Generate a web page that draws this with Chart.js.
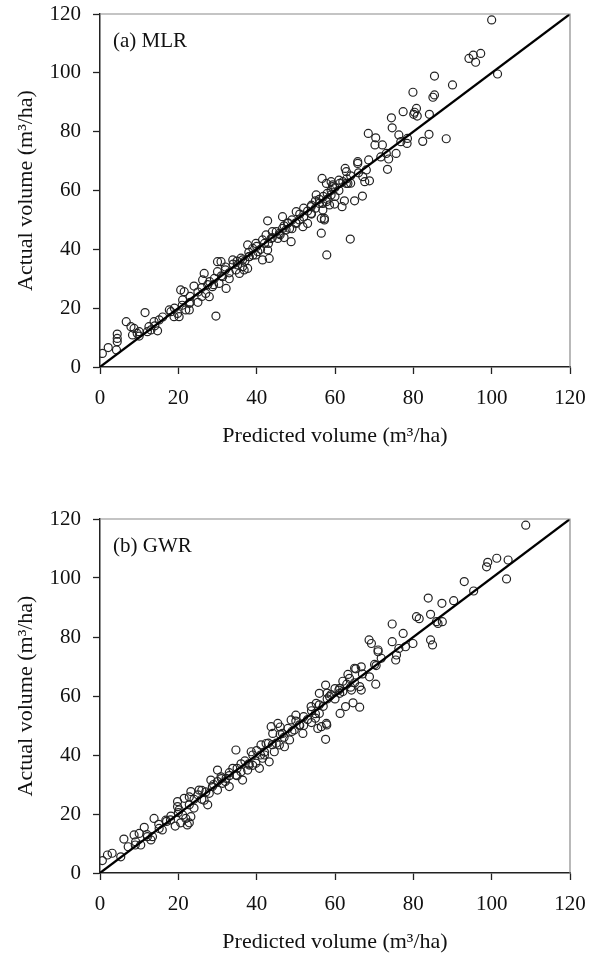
<!DOCTYPE html>
<html>
<head>
<meta charset="utf-8">
<script src="https://cdn.jsdelivr.net/npm/chart.js@4/dist/chart.umd.min.js"></script>
<style>
  body { margin: 0; background: #fff; }
  .panel { position: absolute; left: 0; width: 589px; height: 481px; }
</style>
</head>
<body>
<div class="panel" style="top:0"><canvas id="mlr" width="589" height="481"></canvas></div>
<div class="panel" style="top:481px"><canvas id="gwr" width="589" height="481"></canvas></div>
<script>
// axis / labels
const axisMin = 0;
const axisMax = 120;
const tickStep = 20;
const xTitle = "Predicted volume (m³/ha)";
const yTitle = "Actual volume (m³/ha)";
const panelLabels = ["(a) MLR", "(b) GWR"];
const oneToOne = [0, 120];

// (a) MLR: predicted vs actual
const mlrPredicted = [
  100, 101.5, 94.2, 95.3, 97.2, 95.9, 85.4, 90, 79.9, 85.4, 85, 77.4, 80.3, 80.8, 81, 80.1, 84.1, 74.4, 74.6,
  68.5, 70.4, 70.2, 72.1, 76.3, 78.5, 76.8, 78.4, 84, 82.4, 88.4, 75.6, 73.7, 73.1, 71.7, 73.4, 68.6, 65.8,
  65.8, 62.6, 62.9, 68, 56.7, 67.1, 68.8, 67.6, 59, 61.2, 63.3, 59.4, 57.8, 59.4, 62.9, 65, 67, 62.4, 61.8,
  59.9, 58.6, 56.9, 57.3, 56.5, 57.9, 63.9,
  0.6, 2.1, 4.2, 4.4, 4.4, 4.4, 6.7, 7.9, 8.7, 8.3, 9.5, 10, 11.5, 12.1, 13, 14.7, 13.8, 15.1, 12.5, 17.7,
  18.9, 19.8, 18.1, 20.6, 21.5, 21.1, 21.9, 22.8, 20.2, 22.8, 24, 29.6, 26.6, 27, 27.9, 26.2, 28.7, 30, 30.9,
  30, 31.3, 30.4, 32.2, 29.2, 33.9, 35.1, 36.4, 35.6, 36.8, 37.7, 34.7, 36.4, 37.7, 39, 39.8, 40.3, 38.1,
  41.5, 42.8, 43.2, 39.8, 42.8, 42.4, 41.5, 43.7, 45.4, 45.8, 46.6, 47.5, 46.6, 47.9, 48.8, 48.4, 50.1, 50.9,
  51.8, 53, 50.1, 53.9, 55.2, 56, 53.9, 56.5, 56.9, 57.8, 57.3,
  23, 25, 26, 27.5, 28, 29, 31, 32, 33, 34, 35, 36, 37, 38, 40, 41, 42, 44, 45, 46, 47, 48, 49, 50, 51, 52,
  53, 54, 55, 56, 57, 58, 59, 60, 61, 62, 63, 64, 60, 58, 55, 52, 49, 44, 39, 33, 25, 21, 16, 14, 10, 19,
  23, 26, 32, 38, 43, 47, 54, 59, 61, 64, 66
];
const mlrActual = [
  118, 99.6, 104.9, 106, 106.6, 103.6, 98.9, 95.9, 93.4, 92.5, 91.7, 86.8, 86.6, 87.9, 85.3, 85.9, 85.9, 84.7, 81.3,
  79.4, 77.9, 75.5, 75.5, 78.9, 77.7, 76.6, 76, 79.1, 76.7, 77.6, 72.6, 70.7, 72.6, 71.4, 67.2, 70.4, 69.8,
  69.2, 67.5, 66.4, 67, 64.1, 64.7, 63.3, 63, 63, 62.4, 62.4, 61.3, 62.4, 61.9, 62.4, 56.5, 58.1, 56.5, 54.5,
  55.4, 55.1, 55.6, 50, 45.5, 38.1, 43.5,
  4.6, 6.6, 5.8, 11.2, 9.7, 8.6, 15.4, 13.7, 13.1, 10.9, 11.4, 12, 18.5, 12, 12.6, 12.3, 15.4, 16, 13.7, 19.4,
  17.1, 18.2, 18.8, 26.2, 25.6, 22.8, 19.4, 19.4, 17.1, 21.6, 27.5, 17.3, 31.8, 25, 23.9, 29.6, 27.3, 35.8, 35.8,
  32.4, 30.7, 28.4, 26.7, 30.1, 36.4, 34.7, 34.1, 31.8, 33, 33.5, 33, 36.4, 41.5, 40.3, 42, 39.2, 37.5,
  36.4, 39.8, 36.9, 38.1, 49.7, 44.9, 43.2, 43.7, 43.7, 45.4, 47.1, 46.6, 51.1, 48.8, 42.6, 47.1, 52.8, 50,
  47.7, 48.8, 48.8, 54.5, 58.5, 55.6, 52.2, 50.5, 53.4, 56.2, 50.5,
  24, 25.5, 24, 28, 29, 28, 31, 33, 32, 35, 36, 37, 36, 39, 41, 40, 42, 44, 46, 45, 48, 49, 50, 49, 52, 51,
  53, 55, 54, 57, 58, 59, 60, 61, 60, 63, 64, 65, 58, 57, 56.5, 54, 47, 46, 38, 30, 22, 21, 17, 14, 10.5, 20,
  22, 27, 34, 37.5, 42, 44, 52, 58.5, 63.5, 62.5, 66
];

// (b) GWR: predicted vs actual
const gwrPredicted = [
  108.7, 104.2, 101.3, 99, 98.7, 103.8, 93, 95.4, 83.8, 87.3, 90.3, 80.8, 81.5, 84.4, 85.9, 87.4, 86.3, 74.6,
  77.4, 74.6, 79.9, 76.3, 78, 84.4, 84.9, 68.7, 69.3, 71, 71, 75.7, 75.5, 71.8, 70.1, 70.5, 66.7, 65.3, 65,
  63.3, 63.7, 68.8, 66.3, 70.4, 57.6, 61.2, 64.2, 56, 58.6, 61.2, 66.7, 61.3, 62.7, 64.6, 66.3, 57.9, 56.5, 57.6,
  0.6, 1.9, 3.1, 5.3, 6.1, 7.2, 9.1, 8.7, 10, 10.4, 12.1, 13.4, 13, 11.3, 13.8, 15.1, 15.9, 16.8, 18.1, 19.2,
  20.6, 22.8, 22.3, 21.9, 23.2, 21.1, 20.2, 19.8, 21.5, 22.8, 23.2, 25.3, 26.6, 22.8, 19.8, 27.5, 27.9, 28.3,
  30, 30.9, 28.7, 30, 31.3, 34.7, 33.9, 34.7, 36, 36.4, 33, 32.2, 37.7, 38.1, 38.6, 39.8, 40.7, 41.5, 42, 43.2,
  41.1, 42.4, 44.5, 44.1, 45.4, 43.7, 45.8, 47.1, 48.4, 49.6, 50.9, 48.8, 46.6, 51.8, 53.9, 55.2, 56, 55.6, 57.8,
  24, 25, 26, 27, 29, 31, 32, 33, 35, 36, 37, 38, 39, 40, 41, 43, 44, 46, 47, 48, 49, 50, 51, 52, 53, 54, 55,
  56, 57, 58, 59, 60, 61, 62, 63, 64, 58, 60, 54, 52, 45, 42, 39, 35, 30, 26, 24, 17, 15, 9, 12, 18, 20, 33,
  46, 50, 55, 62, 65, 67
];
const gwrActual = [
  117.9, 106.1, 106.7, 105.3, 103.8, 99.7, 98.8, 95.6, 93.2, 91.4, 92.3, 86.9, 86.2, 87.7, 85.2, 85.2, 84.6, 84.4,
  81.2, 78.4, 77.8, 76.1, 76.7, 79, 77.3, 79, 77.8, 75.6, 75, 73.9, 72.2, 72.8, 70.7, 70.3, 69.9, 69.2, 69.4,
  67.3, 66, 66.5, 63.2, 64, 63.7, 62.6, 62, 60.9, 59.8, 60.9, 62, 54.1, 56.4, 57.7, 56.2, 50.2, 49.6, 45.3,
  4.2, 6.1, 6.7, 5.5, 11.5, 8.9, 10.6, 12.9, 13.4, 9.5, 12.3, 12.3, 11.2, 15.5, 18.5, 15.1, 14.6, 17.9, 19.3, 15.9,
  17, 17, 16.3, 18.5, 19.1, 19.7, 21.4, 24.2, 25.3, 25.8, 27.6, 28.1, 24.7, 23.1, 22.5, 23.1, 27, 31.5,
  34.9, 32.6, 29.3, 28.1, 30.4, 41.7, 35.5, 33.2, 34.3, 31.5, 29.3, 32.1, 34.9, 36.6, 41.1, 37.2, 35.5, 38.9, 40, 37.7,
  43.4, 43.9, 41.1, 47.3, 50.7, 49.6, 43.4, 42.8, 45.1, 48.5, 50.2, 51.9, 47.3, 47.3, 56.4, 57.5, 54.1, 49, 50.7,
  25, 26.5, 25, 27.5, 30, 32, 31, 34, 35.5, 37, 38, 37, 40, 41.5, 40, 44, 43.5, 47, 46, 49, 48, 51.5, 50, 53, 52, 55, 54,
  57, 56.5, 59, 60.5, 59, 62, 61.5, 64, 63, 61, 62.5, 51, 50, 44, 41, 36.5, 33, 31, 28, 22, 17.5, 16.5, 9.5, 13, 18, 20.5, 33,
  49.5, 53.5, 52.5, 65, 64.5, 67.5
];

const serif = "'Liberation Serif', 'Times New Roman', serif";
const ink = "#111";

function toPoints(xs, ys) {
  return xs.map((x, i) => ({ x: x, y: ys[i] }));
}

const framePlugin = {
  id: "frame",
  afterDraw(chart, args, opts) {
    const a = chart.chartArea;
    const ctx = chart.ctx;
    ctx.save();
    ctx.strokeStyle = "#8a8a8a";
    ctx.lineWidth = 1.2;
    ctx.beginPath();
    ctx.moveTo(a.left, a.top);
    ctx.lineTo(a.right, a.top);
    ctx.lineTo(a.right, a.bottom);
    ctx.stroke();
    ctx.fillStyle = ink;
    ctx.font = "21px " + serif;
    ctx.textBaseline = "alphabetic";
    ctx.fillText(opts.text, a.left + 13, a.top + 33);
    ctx.restore();
  },
};

function axisOptions(titleText, isY) {
  return {
    type: "linear",
    min: axisMin,
    max: axisMax,
    ticks: {
      stepSize: tickStep,
      color: ink,
      font: { family: serif, size: 21 },
      padding: 12,
    },
    grid: {
      drawOnChartArea: false,
      drawTicks: true,
      tickLength: 7,
      tickColor: "#222",
      tickWidth: 1.3,
    },
    border: { color: "#222", width: 1.5 },
    title: {
      display: true,
      text: titleText,
      color: ink,
      font: { family: serif, size: 22 },
      padding: isY ? { top: 13, bottom: 0 } : { top: 0, bottom: 7 },
    },
    afterFit: (scale) => {
      if (isY) scale.width = 100;
      else scale.height = 89;
      // let layout padding alone decide the plot edges
      scale.paddingLeft = 0;
      scale.paddingRight = 0;
      scale.paddingTop = 0;
      scale.paddingBottom = 0;
    },
  };
}

function printTheChart(id, label, xs, ys, pad) {
  const ctx = document.getElementById(id).getContext("2d");
  return new Chart(ctx, {
    type: "scatter",
    data: {
      datasets: [
        {
          data: toPoints(oneToOne, oneToOne),
          showLine: true,
          borderColor: "#000",
          borderWidth: 2.2,
          pointRadius: 0,
        },
        {
          data: toPoints(xs, ys),
          pointStyle: "circle",
          pointRadius: 4,
          borderColor: "#222",
          borderWidth: 1.2,
          backgroundColor: "rgba(0,0,0,0)",
        },
      ],
    },
    options: {
      responsive: false,
      devicePixelRatio: 1,
      animation: false,
      layout: { padding: pad },
      plugins: {
        legend: { display: false },
        tooltip: { enabled: false },
        frame: { text: label },
      },
      scales: {
        x: axisOptions(xTitle, false),
        y: axisOptions(yTitle, true),
      },
    },
    plugins: [framePlugin],
  });
}

printTheChart("mlr", panelLabels[0], mlrPredicted, mlrActual, { top: 14, right: 19, left: 0, bottom: 25 });
printTheChart("gwr", panelLabels[1], gwrPredicted, gwrActual, { top: 38, right: 19, left: 0, bottom: 0 });
</script>
</body>
</html>
